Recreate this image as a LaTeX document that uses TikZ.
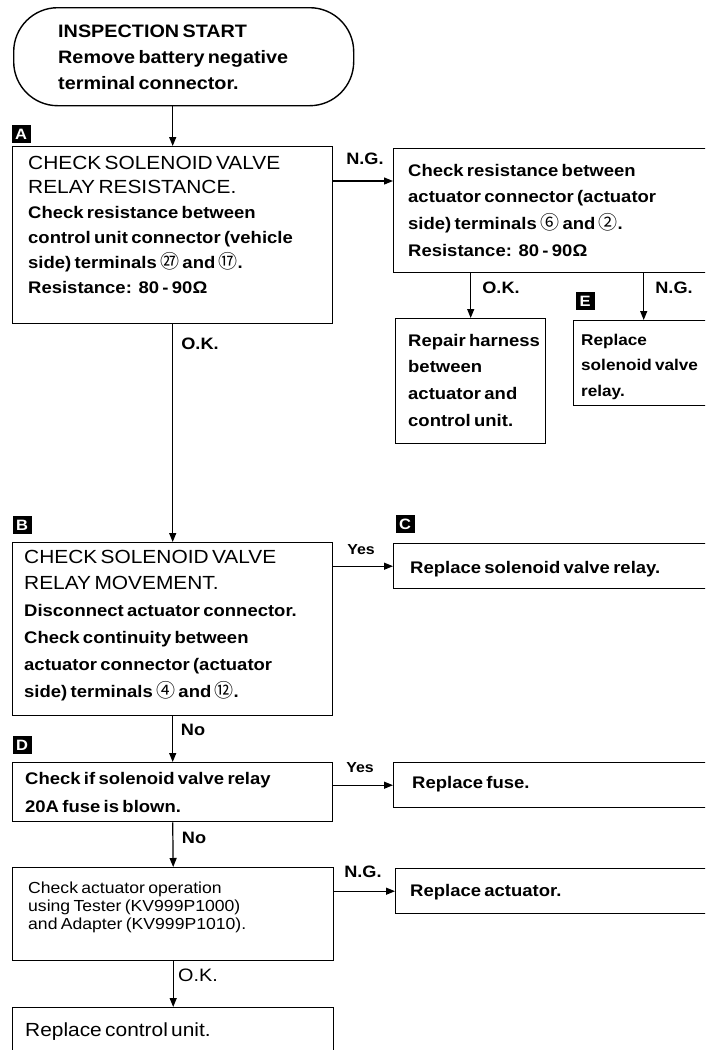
\documentclass[tikz,border=0pt]{standalone}
\usepackage{fontspec}
\setmainfont{Liberation Sans}[FakeStretch=1.1]
\newfontfamily\cjkcirc{Noto Sans CJK SC}
\usetikzlibrary{arrows.meta}
\newcommand{\myhd}[1]{\fontsize{19}{#1}\selectfont\mdseries}
\newcommand{\mybd}[1]{\fontsize{16.8}{#1}\selectfont\bfseries}
\newcommand{\circn}[1]{{\cjkcirc\mdseries\fontsize{19}{19}\selectfont #1}}
\begin{document}
\begin{tikzpicture}[x=1pt,y=-1pt,
  box/.style={draw, line width=1.4pt, rectangle, inner sep=0pt, anchor=north west},
  term/.style={draw, line width=1.4pt, rectangle, rounded corners=44pt, inner sep=0pt, anchor=north west},
  txt/.style={anchor=base west, inner sep=0pt, align=left, text width=320pt},
  tag/.style={fill=black, text=white, inner sep=0pt, minimum width=19pt, minimum height=18pt, font=\fontsize{15}{15}\selectfont\bfseries},
  lab/.style={inner sep=0pt, font=\fontsize{16.5}{16.5}\selectfont\bfseries},
  arr/.style={line width=1.2pt, -{Triangle[length=9pt,width=7pt]}},
  ]
\useasboundingbox (0,0) rectangle (705,1050);
\clip (0,0) rectangle (705,1050);

% boxes
\node[term, minimum width=340pt, minimum height=98pt] (start) at (13,7) {};
\node[box, minimum width=320pt, minimum height=177pt] (boxA) at (12,146) {};
\node[box, minimum width=330pt, minimum height=124pt] (act) at (393,148) {};
\node[box, minimum width=150pt, minimum height=125pt] (harn) at (395,318) {};
\node[box, minimum width=140pt, minimum height=85pt] (boxE) at (573,320) {};
\node[box, minimum width=320pt, minimum height=173pt] (boxB) at (12,542) {};
\node[box, minimum width=330pt, minimum height=45pt] (boxC) at (393,543) {};
\node[box, minimum width=320pt, minimum height=59pt] (boxD) at (12,762) {};
\node[box, minimum width=330pt, minimum height=45pt] (fuse) at (393,762) {};
\node[box, minimum width=321pt, minimum height=93pt] (oper) at (12,867) {};
\node[box, minimum width=330pt, minimum height=45pt] (repact) at (395,868) {};
\node[box, minimum width=321pt, minimum height=80pt] (ctrl) at (12,1007) {};

% texts
\node[txt] (tstart) at (58,37)
  {\fontsize{18}{26}\selectfont\bfseries INSPECTION START\\Remove battery negative\\terminal connector.\par};
\node[txt] (tA) at (28,169)
  {\myhd{24.8}CHECK SOLENOID VALVE\\RELAY RESISTANCE.\\\mybd{24.8}Check resistance between\\control unit connector (vehicle\\side) terminals \circn{㉗} and \circn{⑰}.\\Resistance:\ \ 80 - 90Ω\par};
\node[txt] (tact) at (408,176)
  {\mybd{26.7}Check resistance between\\actuator connector (actuator\\side) terminals \circn{⑥} and \circn{②}.\\Resistance:\ \ 80 - 90Ω\par};
\node[txt] (tharn) at (408,346)
  {\mybd{26.7}Repair harness\\between\\actuator and\\control unit.\par};
\node[txt] (tE) at (581,345)
  {\fontsize{15.6}{25.5}\selectfont\bfseries Replace\\solenoid valve\\relay.\par};
\node[txt] (tB) at (24,563)
  {\myhd{26.8}CHECK SOLENOID VALVE\\RELAY MOVEMENT.\\\mybd{26.8}Disconnect actuator connector.\\Check continuity between\\actuator connector (actuator\\side) terminals \circn{④} and \circn{⑫}.\par};
\node[txt] (tC) at (410,573) {\mybd{20}Replace solenoid valve relay.\par};
\node[txt] (tD) at (25,784) {\mybd{28}Check if solenoid valve relay\\20A fuse is blown.\par};
\node[txt] (tfuse) at (412,788) {\mybd{20}Replace fuse.\par};
\node[txt] (toper) at (28,893)
  {\fontsize{16}{18}\selectfont Check actuator operation\\using Tester (KV999P1000)\\and Adapter (KV999P1010).\par};
\node[txt] (trepact) at (410,896) {\mybd{20}Replace actuator.\par};
\node[txt] (tctrl) at (25,1036) {\myhd{20}Replace control unit.\par};

% tags
\node[tag] (tagA) at (21,134) {A};
\node[tag] (tagB) at (22,525) {B};
\node[tag] (tagC) at (405,524) {C};
\node[tag] (tagD) at (22,745) {D};
\node[tag] (tagE) at (585,301) {E};

% connectors
\draw[arr] (boxA.north |- start.south) -- (boxA.north);
\coordinate (ngA) at ([yshift=-35pt]boxA.north east);
\draw[arr] (ngA) -- (ngA -| act.west);
\draw[arr] (harn.north |- act.south) -- (harn.north);
\draw[arr] (boxE.north |- act.south) -- (boxE.north);
\draw[arr] (boxA.south) -- (boxB.north);
\draw[arr] (boxB.east |- boxC.west) -- (boxC.west);
\draw[arr] (boxB.south) -- (boxD.north);
\draw[arr] (boxD.east |- fuse.west) -- (fuse.west);
\draw[arr] (boxD.south) -- (oper.north);
\draw[arr] (oper.east |- repact.west) -- (repact.west);
\draw[arr] (oper.south) -- (ctrl.north);

% connector labels
\node[lab] (l1) at (365,159) {N.G.};
\node[lab] (l2) at (501,288) {O.K.};
\node[lab] (l3) at (674,288) {N.G.};
\node[lab] (l4) at (200,344) {O.K.};
\node[lab, font=\fontsize{14.5}{14.5}\selectfont\bfseries] (l5) at (361,550) {Yes};
\node[lab] (l6) at (193,730) {No};
\node[lab, font=\fontsize{14.5}{14.5}\selectfont\bfseries] (l7) at (360,768) {Yes};
\node[lab] (l8) at (194,838) {No};
\node[lab] (l9) at (363,872) {N.G.};
\node[lab, font=\fontsize{18}{18}\selectfont] (l10) at (198,975) {O.K.};
\end{tikzpicture}
\end{document}
